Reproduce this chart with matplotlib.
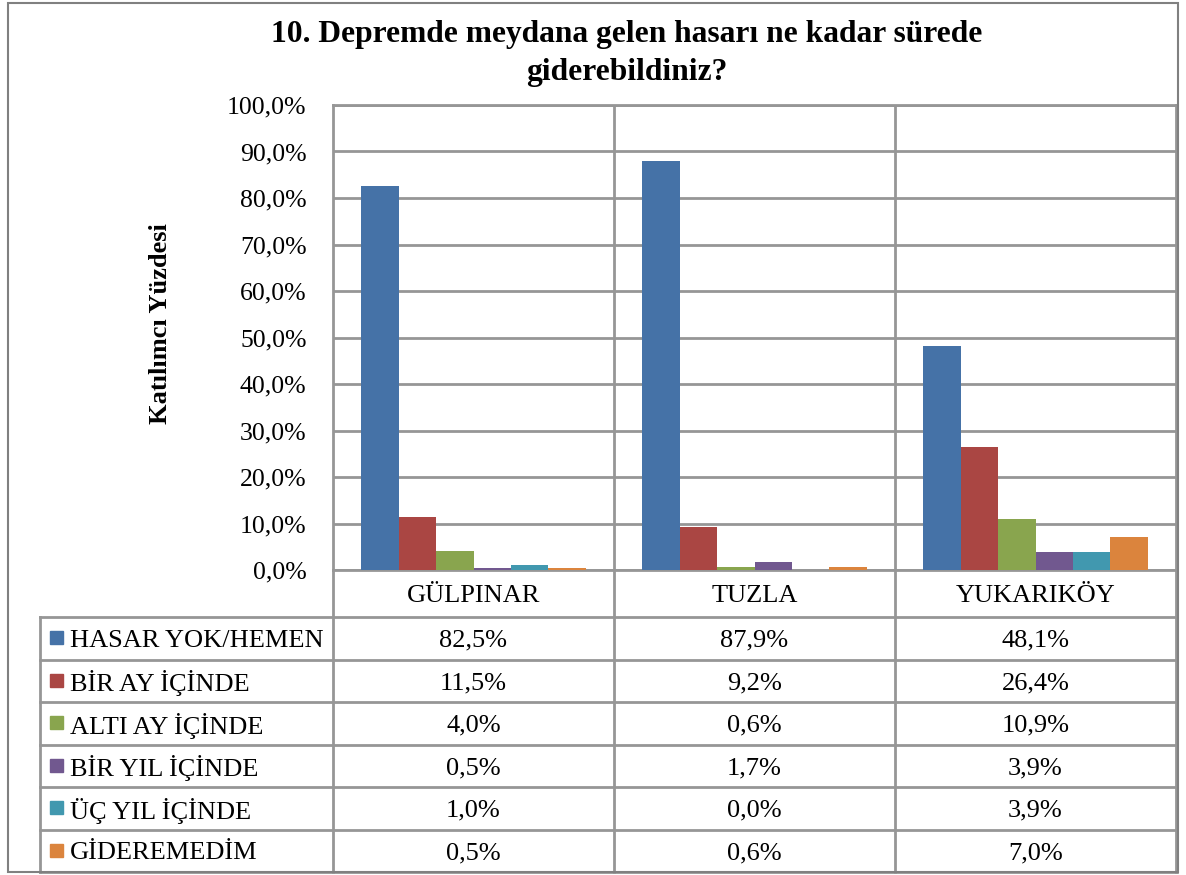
import matplotlib.pyplot as plt
from matplotlib.patches import Rectangle
import numpy as np

# data
villages = ['GÜLPINAR', 'TUZLA', 'YUKARIKÖY']
answers = ['HASAR YOK/HEMEN', 'BİR AY İÇİNDE', 'ALTI AY İÇİNDE',
           'BİR YIL İÇİNDE', 'ÜÇ YIL İÇİNDE', 'GİDEREMEDİM']
hasar_yok = [82.5, 87.9, 48.1]
bir_ay = [11.5, 9.2, 26.4]
alti_ay = [4.0, 0.6, 10.9]
bir_yil = [0.5, 1.7, 3.9]
uc_yil = [1.0, 0.0, 3.9]
gideremedim = [0.5, 0.6, 7.0]
series = [hasar_yok, bir_ay, alti_ay, bir_yil, uc_yil, gideremedim]
colors = ['#4572A7', '#AA4643', '#89A54E', '#71588F', '#4198AF', '#DB843D']

W, H = 1186, 875
plt.rcParams['font.family'] = ['Liberation Serif', 'DejaVu Serif']
fig = plt.figure(figsize=(W / 100, H / 100), dpi=100)

def box(x0, y0, x1, y1):
    # pixel box (top-left origin) -> figure fractions
    return [x0 / W, 1 - y1 / H, (x1 - x0) / W, (y1 - y0) / H]

grid_c = '#969696'

# outer frame
fig.add_artist(Rectangle((8 / W, 1 - 872 / H), 1170 / W, 869 / H,
                         transform=fig.transFigure, fill=False,
                         edgecolor='#808080', lw=1.5))

fig.text(627 / W, 1 - 31 / H, '10. Depremde meydana gelen hasarı ne kadar sürede',
         ha='center', va='center_baseline', fontsize=22.7, fontweight='bold')
fig.text(627 / W, 1 - 69 / H, 'giderebildiniz?',
         ha='center', va='center_baseline', fontsize=22.7, fontweight='bold')

# bar chart
ax = fig.add_axes(box(333, 105, 1176, 570))
n = len(series)
bw = 0.8 / n
x = np.arange(len(villages)) + 0.5
for i, (vals, c) in enumerate(zip(series, colors)):
    ax.bar(x - 0.4 + bw * (i + 0.5), vals, width=bw, color=c, zorder=3)

ax.set_xlim(0, len(villages))
ax.set_ylim(0, 100)
ax.set_yticks(np.arange(0, 101, 10))
ax.set_yticklabels([f'{v:.1f}%'.replace('.', ',') for v in np.arange(0, 101, 10)],
                   fontsize=18.5)
ax.set_xticks([])
ax.tick_params(axis='y', length=0, pad=19)
ax.yaxis.grid(True, color=grid_c, lw=2, zorder=0)
for xv in range(1, len(villages)):
    ax.axvline(xv, color=grid_c, lw=2, zorder=0)
for s in ax.spines.values():
    s.set_color(grid_c)
    s.set_linewidth(2)
ax.set_ylabel('Katılımcı Yüzdesi', fontsize=19, fontweight='bold', va='center')
ax.yaxis.set_label_coords(-0.205, 0.53)

# data table under the chart
tab = fig.add_axes(box(40, 570, 1177, 872))
tab.axis('off')
tab.set_xlim(40, 1177)
tab.set_ylim(872, 570)
col_x = [333 + 281 * k for k in range(len(villages) + 1)]
rows_y = [617 + 42.5 * k for k in range(len(answers) + 1)]
lk = dict(color=grid_c, lw=2, clip_on=False)

for xv in col_x:
    tab.plot([xv, xv], [570, 872], **lk)
tab.plot([40, 40], [rows_y[0], 872], **lk)
for yv in rows_y:
    tab.plot([40, 1177], [yv, yv], **lk)

for j, v in enumerate(villages):
    tab.text((col_x[j] + col_x[j + 1]) / 2, 593, v, ha='center',
             va='center_baseline', fontsize=19)

for i, (lab, vals, c) in enumerate(zip(answers, series, colors)):
    yc = (rows_y[i] + rows_y[i + 1]) / 2
    tab.add_patch(Rectangle((50, yc - 7), 13, 13, color=c, clip_on=False))
    tab.text(70, yc, lab, ha='left', va='center_baseline', fontsize=19)
    for j, v in enumerate(vals):
        tab.text((col_x[j] + col_x[j + 1]) / 2, yc, f'{v:.1f}%'.replace('.', ','),
                 ha='center', va='center_baseline', fontsize=19)

fig.savefig('out.png', dpi=100)
